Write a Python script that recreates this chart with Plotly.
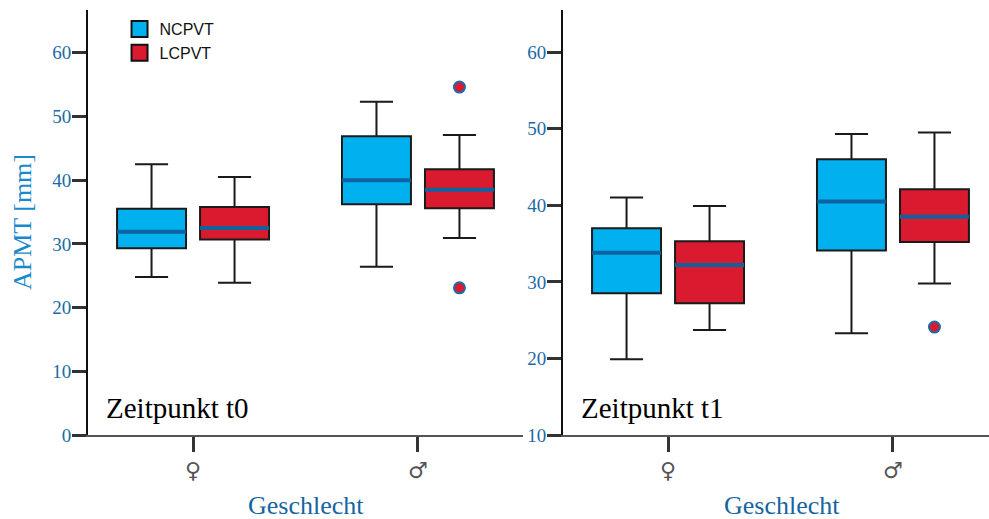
import plotly.graph_objects as go

categories = ["♀", "♂"]
cat_index = [0, 1]
series = ["NCPVT", "LCPVT"]
fill_colors = {"NCPVT": "#00b0ef", "LCPVT": "#d91a2f"}

# Zeitpunkt t0 (left panel)
t0 = {
    "NCPVT": dict(lower=[24.8, 26.4], q1=[29.3, 36.2], median=[31.9, 40.0], q3=[35.5, 46.9], upper=[42.5, 52.3]),
    "LCPVT": dict(lower=[23.9, 30.9], q1=[30.7, 35.6], median=[32.5, 38.5], q3=[35.8, 41.7], upper=[40.5, 47.1]),
}
t0_outliers = {"LCPVT": {"cat": [1, 1], "val": [54.6, 23.1]}}

# Zeitpunkt t1 (right panel)
t1 = {
    "NCPVT": dict(lower=[19.9, 23.3], q1=[28.5, 34.1], median=[33.8, 40.5], q3=[37.0, 46.0], upper=[41.0, 49.3]),
    "LCPVT": dict(lower=[23.7, 29.8], q1=[27.2, 35.2], median=[32.2, 38.5], q3=[35.3, 42.1], upper=[39.9, 49.5]),
}
t1_outliers = {"LCPVT": {"cat": [1], "val": [24.1]}}

y_ticks_left = [0, 10, 20, 30, 40, 50, 60]
y_ticks_right = [10, 20, 30, 40, 50, 60]

serif = "Liberation Serif"
tick_blue = "#1c6aa6"
median_blue = "#0f62a0"

BOXGAP = 0.262
BOXGROUPGAP = 0.169
# centre offset of each grouped box inside a category (from layout gaps)
slot = (1 - BOXGAP) / len(series)
offsets = {s: (i - (len(series) - 1) / 2) * slot for i, s in enumerate(series)}

fig = go.Figure()

for panel, (data, outl, xa, ya) in enumerate([(t0, t0_outliers, "x", "y"), (t1, t1_outliers, "x2", "y2")]):
    for s in series:
        d = data[s]
        fig.add_trace(go.Box(
            x=cat_index,
            q1=d["q1"], median=d["median"], q3=d["q3"],
            lowerfence=d["lower"], upperfence=d["upper"],
            name=s, offsetgroup=s, alignmentgroup="a%d" % panel,
            xaxis=xa, yaxis=ya,
            fillcolor=fill_colors[s],
            line=dict(color="#1a1a1a", width=2),
            whiskerwidth=0.48, boxpoints=False,
            showlegend=False, hoverinfo="skip",
        ))
        # blue median overlay
        fig.add_trace(go.Box(
            x=cat_index,
            q1=d["median"], median=d["median"], q3=d["median"],
            lowerfence=d["median"], upperfence=d["median"],
            name=s + " median", offsetgroup=s, alignmentgroup="a%d" % panel,
            xaxis=xa, yaxis=ya,
            fillcolor="rgba(0,0,0,0)",
            line=dict(color=median_blue, width=4),
            whiskerwidth=0, boxpoints=False,
            showlegend=False, hoverinfo="skip",
        ))
    for s, o in outl.items():
        fig.add_trace(go.Scatter(
            x=[c + offsets[s] for c in o["cat"]], y=o["val"],
            mode="markers", xaxis=xa, yaxis=ya,
            marker=dict(symbol="circle", size=11, color="#d91a2f",
                        line=dict(color="#1f6aa8", width=2)),
            showlegend=False, hoverinfo="skip",
        ))

# legend entries
for s in series:
    fig.add_trace(go.Scatter(
        x=[None], y=[None], mode="markers", name=s,
        marker=dict(symbol="square", size=17, color=fill_colors[s],
                    line=dict(color="#111", width=2)),
        xaxis="x", yaxis="y",
    ))

xcommon = dict(
    type="linear", tickvals=cat_index, ticktext=categories,
    showline=True, linecolor="#555", linewidth=2,
    ticks="outside", ticklen=15, tickwidth=3, tickcolor="#333",
    tickfont=dict(family="DejaVu Sans", size=22, color="#555"),
    showgrid=False, zeroline=False,
)
ycommon = dict(
    showline=True, linecolor="#111", linewidth=2,
    ticks="outside", ticklen=14, tickwidth=3, tickcolor="#333",
    tickfont=dict(family=serif, size=19, color=tick_blue),
    ticklabelstandoff=-3,
    showgrid=False, zeroline=False,
)

fig.update_layout(
    width=989, height=519,
    margin=dict(l=88, r=0, t=10, b=84),
    plot_bgcolor="white", paper_bgcolor="white",
    boxmode="group", boxgap=BOXGAP, boxgroupgap=BOXGROUPGAP,
    xaxis=dict(domain=[0, 0.4828], range=[-0.467, 1.467], anchor="y", **xcommon),
    xaxis2=dict(domain=[0.5272, 1], range=[-0.467, 1.427], anchor="y2", **xcommon),
    yaxis=dict(range=[0, 66.7], tickvals=y_ticks_left, anchor="x", **ycommon),
    yaxis2=dict(range=[10, 65.5], tickvals=y_ticks_right, anchor="x2", **ycommon),
    legend=dict(x=0.035, y=0.995, xanchor="left", yanchor="top",
                font=dict(family="Liberation Sans", size=16, color="#111"),
                bgcolor="rgba(0,0,0,0)", tracegroupgap=0),
    showlegend=True,
    annotations=[
        dict(text="Zeitpunkt t0", x=0.0178, y=0.0635, xref="paper", yref="paper",
             xanchor="left", yanchor="middle", showarrow=False,
             font=dict(family=serif, size=29, color="black")),
        dict(text="Zeitpunkt t1", x=0.5455, y=0.0635, xref="paper", yref="paper",
             xanchor="left", yanchor="middle", showarrow=False,
             font=dict(family=serif, size=29, color="black")),
        dict(text="APMT [mm]", x=-0.0733, y=0.501, xref="paper", yref="paper",
             xanchor="center", yanchor="middle", showarrow=False, textangle=-90,
             font=dict(family=serif, size=26, color="#1a88cc")),
        dict(text="Geschlecht", x=0.242, y=-0.165, xref="paper", yref="paper",
             xanchor="center", yanchor="middle", showarrow=False,
             font=dict(family=serif, size=26, color="#1565a0")),
        dict(text="Geschlecht", x=0.770, y=-0.165, xref="paper", yref="paper",
             xanchor="center", yanchor="middle", showarrow=False,
             font=dict(family=serif, size=26, color="#1565a0")),
    ],
)

fig.write_html("out.html")
